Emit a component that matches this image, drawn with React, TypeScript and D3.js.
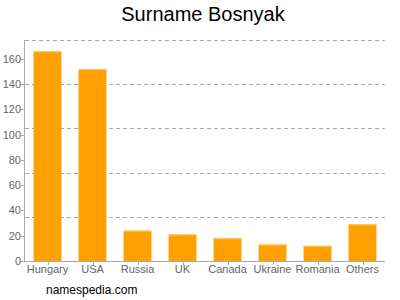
import React from "react";
import * as d3 from "d3";

const categories = ["Hungary", "USA", "Russia", "UK", "Canada", "Ukraine", "Romania", "Others"];
const values = [166, 152, 24, 21, 18, 13, 12, 29];
const yTicks = [0, 20, 40, 60, 80, 100, 120, 140, 160];
const title = "Surname Bosnyak";
const footer = "namespedia.com";

export default function App() {
  const W = 400, H = 300;
  const left = 25, right = 385, top = 40, bottom = 261;
  const x = d3.scaleBand<string>().domain(categories).range([left, right]).paddingInner(0.38).paddingOuter(0.19);
  const y = d3.scaleLinear().domain([0, 175]).range([bottom, top]);
  const grid = d3.range(1, 6).map((i) => bottom - ((bottom - top) * i) / 5);
  const font = "Liberation Sans, Arial, sans-serif";
  return (
    <svg width={W} height={H} style={{ position: "absolute", left: 0, top: 0, background: "#fff" }}>
      <text x={203} y={21} textAnchor="middle" fontFamily={font} fontSize={20} fill="#000">{title}</text>
      {grid.map((g, i) => (
        <line key={i} x1={left} x2={right} y1={Math.round(g) + 0.5} y2={Math.round(g) + 0.5} stroke="#aaa" strokeDasharray="4,3" strokeWidth={1} />
      ))}
      {categories.map((c, i) => {
        const bx = x(c)!;
        const by = y(values[i]);
        return (
          <g key={c}>
            <rect x={bx} y={by} width={x.bandwidth()} height={bottom - by} fill="#FFA000" />
            <rect x={bx} y={by} width={x.bandwidth()} height={1} fill="#FFC455" />
          </g>
        );
      })}
      <line x1={left - 0.5} x2={left - 0.5} y1={top} y2={bottom} stroke="#aaa" />
      <line x1={left} x2={right} y1={bottom + 0.5} y2={bottom + 0.5} stroke="#aaa" />
      {yTicks.map((t) => (
        <g key={t}>
          <line x1={left - 4} x2={left} y1={Math.round(y(t)) + 0.5} y2={Math.round(y(t)) + 0.5} stroke="#aaa" />
          <text x={left - 4} y={y(t) + 4} textAnchor="end" fontFamily={font} fontSize={11} fill="#666">{t}</text>
        </g>
      ))}
      {categories.map((c) => {
        const cx = x(c)! + x.bandwidth() / 2;
        return (
          <g key={c}>
            <line x1={Math.round(cx) + 0.5} x2={Math.round(cx) + 0.5} y1={bottom} y2={bottom + 4} stroke="#aaa" />
            <text x={cx} y={273} textAnchor="middle" fontFamily={font} fontSize={11} fill="#666">{c}</text>
          </g>
        );
      })}
      <text x={46} y={294} fontFamily={font} fontSize={12} fill="#000">{footer}</text>
    </svg>
  );
}
